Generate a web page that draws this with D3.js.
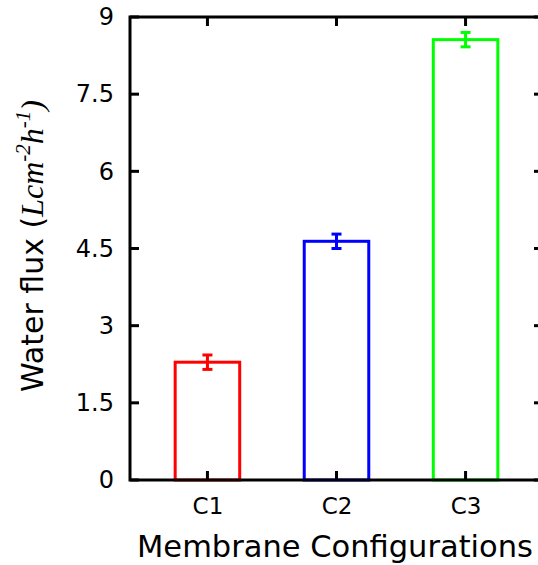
<!DOCTYPE html>
<html>
<head>
<meta charset="utf-8">
<script src="https://cdn.jsdelivr.net/npm/d3@7"></script>
<style>
  html, body { margin: 0; padding: 0; background: #fff; }
  svg { display: block; }
  text { font-family: "DejaVu Sans", sans-serif; fill: #000; }
</style>
</head>
<body>
<svg id="chart" width="538" height="565"></svg>
<script>
// Water flux per membrane configuration (mean and error)
const categories = ["C1", "C2", "C3"];
const fluxValues = [2.29, 4.64, 8.56];
const fluxErrors = [0.14, 0.14, 0.14];
const barColors = ["#ff0000", "#0000ff", "#00ff00"];
const yTickValues = [0, 1.5, 3, 4.5, 6, 7.5, 9];

const svg = d3.select("#chart");

const plot = { left: 130, top: 17, bottom: 480 };

// Categories sit at positions 1..3 on a [0.4, 3.6] axis
const x = d3.scaleLinear().domain([0.4, 3.6]).range([plot.left, 543]);
const y = d3.scaleLinear().domain([0, 9]).range([plot.bottom, plot.top]);
const barHalf = 0.25;
const tickLen = 9;

const g = svg.append("g");

// Bars drawn as open outlines
const bars = g.selectAll("g.bar")
  .data(categories.map((c, i) => ({ c, i, v: fluxValues[i], e: fluxErrors[i], col: barColors[i] })))
  .enter().append("g").attr("class", "bar");

bars.append("rect")
  .attr("x", d => x(d.i + 1 - barHalf))
  .attr("y", d => y(d.v))
  .attr("width", d => x(d.i + 1 + barHalf) - x(d.i + 1 - barHalf))
  .attr("height", d => y(0) - y(d.v))
  .attr("fill", "none")
  .attr("stroke", d => d.col)
  .attr("stroke-width", 3);

// Error bars
bars.append("line")
  .attr("x1", d => x(d.i + 1)).attr("x2", d => x(d.i + 1))
  .attr("y1", d => y(d.v - d.e)).attr("y2", d => y(d.v + d.e))
  .attr("stroke", d => d.col).attr("stroke-width", 3);
[1, -1].forEach(s => {
  bars.append("line")
    .attr("x1", d => x(d.i + 1) - 5).attr("x2", d => x(d.i + 1) + 5)
    .attr("y1", d => y(d.v + s * d.e)).attr("y2", d => y(d.v + s * d.e))
    .attr("stroke", d => d.col).attr("stroke-width", 3);
});

// Frame and mirrored ticks
const frame = g.append("g").attr("stroke", "#000").attr("stroke-width", 3).attr("fill", "none");
frame.append("path")
  .attr("d", `M${x(3.6)},${y(9)}H${x(0.4)}V${y(0)}H${x(3.6)}V${y(9)}`)
  .attr("stroke-linecap", "square");

// Left axis labels and inward ticks
const yAxis = d3.axisLeft(y).tickValues(yTickValues).tickSize(0).tickPadding(16)
  .tickFormat(d => String(d));
const ya = g.append("g").attr("transform", `translate(${plot.left},0)`).call(yAxis);
ya.select(".domain").remove();
ya.selectAll("text").style("font-size", "24px").style("font-family", "'DejaVu Sans', sans-serif");

yTickValues.forEach(v => {
  frame.append("line").attr("x1", x(0.4)).attr("x2", x(0.4) + tickLen).attr("y1", y(v)).attr("y2", y(v));
  frame.append("line").attr("x1", x(3.6)).attr("x2", x(3.6) - tickLen).attr("y1", y(v)).attr("y2", y(v));
});

// Bottom axis labels and inward ticks
const xAxis = d3.axisBottom(x).tickValues([1, 2, 3]).tickSize(0).tickPadding(18)
  .tickFormat(d => categories[d - 1]);
const xa = g.append("g").attr("transform", `translate(0,${plot.bottom})`).call(xAxis);
xa.select(".domain").remove();
xa.selectAll("text").style("font-size", "23px").style("font-family", "'DejaVu Sans', sans-serif");

[1, 2, 3].forEach(v => {
  frame.append("line").attr("x1", x(v)).attr("x2", x(v)).attr("y1", y(0)).attr("y2", y(0) - tickLen);
  frame.append("line").attr("x1", x(v)).attr("x2", x(v)).attr("y1", y(9)).attr("y2", y(9) + tickLen);
});

// Axis titles
svg.append("text")
  .attr("x", 335).attr("y", 557)
  .attr("text-anchor", "middle")
  .style("font-size", "30.5px")
  .text("Membrane Configurations");

const yt = svg.append("text")
  .attr("transform", "translate(43,246) rotate(-90)")
  .attr("text-anchor", "middle")
  .style("font-size", "30px");
yt.append("tspan").text("Water flux (");
const serif = "'Liberation Serif', 'Times New Roman', serif";
const italicSpan = (txt, size, dy) => {
  const s = yt.append("tspan").style("font-family", serif).style("font-style", "italic").text(txt);
  if (size) s.style("font-size", size);
  if (dy) s.attr("dy", dy);
  return s;
};
italicSpan("Lcm", "32px");
italicSpan("-2", "21px", -13);
italicSpan("h", "32px", 13);
italicSpan("-1", "21px", -13);
italicSpan(")", "32px", 13);
</script>
</body>
</html>
